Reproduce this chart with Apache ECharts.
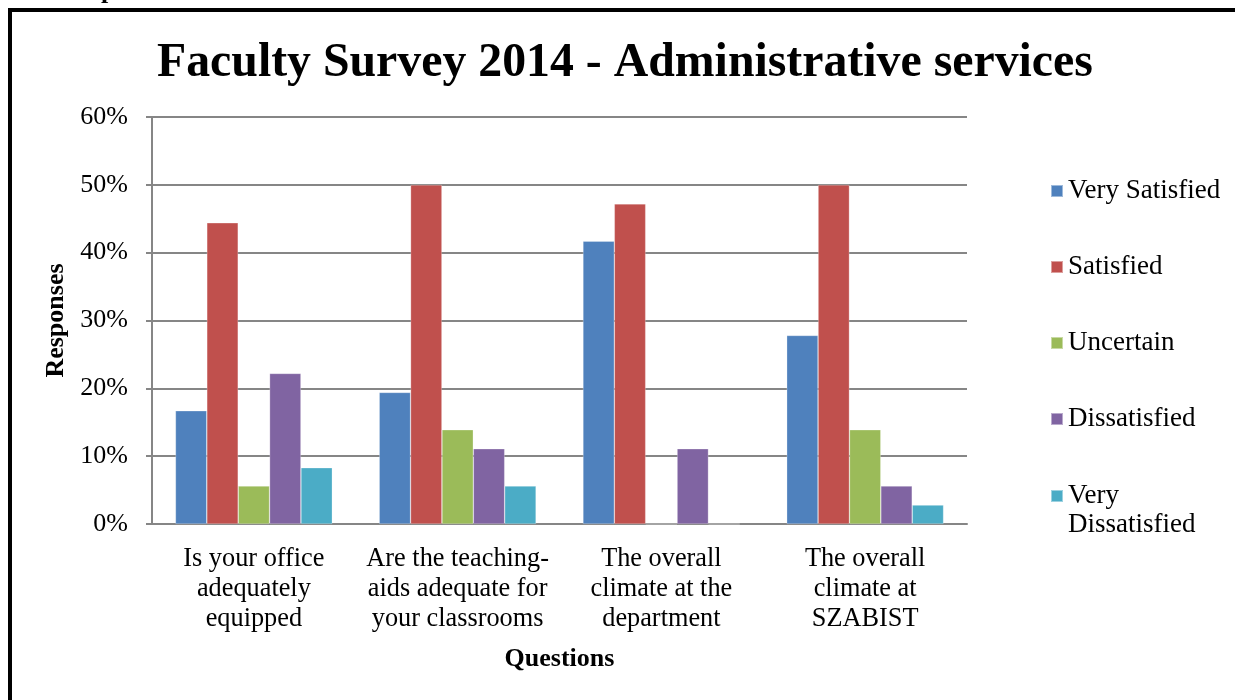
<!DOCTYPE html>
<html>
<head>
<meta charset="utf-8">
<title>Faculty Survey 2014 - Administrative services</title>
<script src="https://cdn.jsdelivr.net/npm/echarts@6/dist/echarts.min.js"></script>
<style>
  html, body { margin: 0; padding: 0; background: #ffffff; }
  #chart { width: 1235px; height: 700px; }
</style>
</head>
<body>
<div id="chart"></div>
<script>
// Survey questions (x-axis categories)
const categories = [
  'Is your office\nadequately\nequipped',
  'Are the teaching-\naids adequate for\nyour classrooms',
  'The overall\nclimate at the\ndepartment',
  'The overall\nclimate at\nSZABIST'
];

// Share of responses (%) per answer, one value per question
const verySatisfied    = [16.7, 19.4, 41.7, 27.8];
const satisfied        = [44.4, 50.0, 47.2, 50.0];
const uncertain        = [5.6, 13.9, 0, 13.9];
const dissatisfied     = [22.2, 11.1, 11.1, 5.6];
const veryDissatisfied = [8.3, 5.6, 0, 2.8];

const seriesNames = ['Very Satisfied', 'Satisfied', 'Uncertain', 'Dissatisfied', 'Very Dissatisfied'];
const seriesData = [verySatisfied, satisfied, uncertain, dissatisfied, veryDissatisfied];
const seriesColors = ['#4F81BD', '#C0504D', '#9BBB59', '#8064A2', '#4BACC6'];

// Value-axis ticks
const yTicks = [0, 10, 20, 30, 40, 50, 60];

const FONT = "'Liberation Serif', 'Times New Roman', serif";
const GRAY = '#868686';

const chart = echarts.init(document.getElementById('chart'), null, { renderer: 'canvas' });

const legendText = { fontFamily: FONT, fontSize: 27, color: '#000', lineHeight: 29 };

chart.setOption({
  backgroundColor: '#ffffff',
  animation: false,
  color: seriesColors,
  title: {
    text: 'Faculty Survey 2014 - Administrative services',
    left: 157,
    top: 40,
    padding: 0,
    textStyle: { fontFamily: FONT, fontSize: 47.8, fontWeight: 'bold', color: '#000' }
  },
  legend: [
    {
      orient: 'vertical',
      left: 1050,
      top: 176.5,
      padding: 0,
      itemWidth: 12,
      itemHeight: 12,
      itemGap: 47,
      icon: 'rect',
      selectedMode: false,
      textStyle: legendText,
      data: seriesNames.slice(0, 4)
    },
    {
      // two-line label; a blank first line keeps the swatch beside "Very"
      orient: 'vertical',
      left: 1050,
      top: 452.5,
      padding: 0,
      itemWidth: 12,
      itemHeight: 12,
      icon: 'rect',
      selectedMode: false,
      formatter: () => ' \nVery\nDissatisfied',
      textStyle: legendText,
      data: seriesNames.slice(4)
    }
  ],
  grid: { left: 152, right: 268, top: 117, bottom: 176, containLabel: false },
  xAxis: {
    type: 'category',
    data: categories,
    name: 'Questions',
    nameLocation: 'middle',
    nameGap: 122,
    nameTextStyle: { fontFamily: FONT, fontSize: 26, fontWeight: 'bold', color: '#000' },
    axisLine: { lineStyle: { color: GRAY, width: 2 } },
    axisTick: { show: false },
    axisLabel: {
      interval: 0,
      margin: 20,
      fontFamily: FONT,
      fontSize: 26.3,
      lineHeight: 30,
      color: '#000'
    }
  },
  yAxis: {
    type: 'value',
    min: yTicks[0],
    max: yTicks[yTicks.length - 1],
    interval: 10,
    name: 'Responses',
    nameLocation: 'middle',
    nameGap: 72,
    nameTextStyle: { fontFamily: FONT, fontSize: 26, fontWeight: 'bold', color: '#000' },
    axisLine: { show: true, lineStyle: { color: GRAY, width: 2 } },
    axisTick: { show: true, length: 6, lineStyle: { color: GRAY, width: 2 } },
    splitLine: { lineStyle: { color: GRAY, width: 2 } },
    axisLabel: {
      margin: 24,
      fontFamily: FONT,
      fontSize: 26,
      color: '#000',
      formatter: '{value}%'
    }
  },
  series: seriesNames.map((name, i) => ({
    name: name,
    type: 'bar',
    data: seriesData[i],
    barGap: '0%',
    barCategoryGap: '23%',
    itemStyle: { color: seriesColors[i], borderColor: 'rgba(255,255,255,0.45)', borderWidth: 0.6 }
  })),
  graphic: [
    {
      type: 'rect',
      silent: true,
      z: 100,
      shape: { x: 10, y: 10, width: 1400, height: 900 },
      style: { fill: 'none', stroke: '#000', lineWidth: 4 }
    },
    {
      type: 'text',
      silent: true,
      x: 101,
      y: 4,
      style: {
        text: 'p',
        fontFamily: FONT,
        fontSize: 26,
        fontWeight: 'bold',
        fill: '#000',
        verticalAlign: 'bottom'
      }
    }
  ]
});
</script>
</body>
</html>
